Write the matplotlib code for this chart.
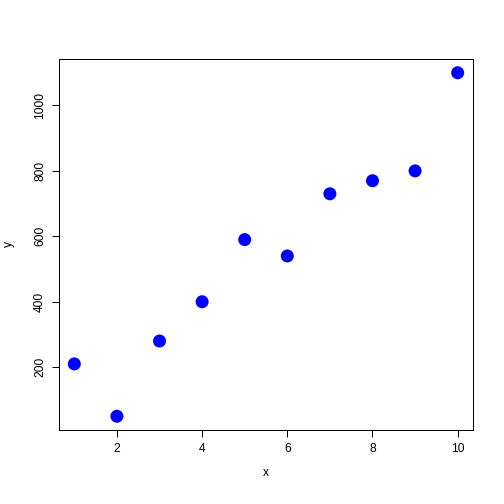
import matplotlib
matplotlib.use("Agg")
import matplotlib.pyplot as plt

x = [1, 2, 3, 4, 5, 6, 7, 8, 9, 10]
y = [210, 50, 280, 400, 590, 540, 730, 770, 800, 1100]
xticks = [2, 4, 6, 8, 10]
yticks = [200, 400, 600, 800, 1000]

plt.rcParams['font.family'] = ['Liberation Sans', 'DejaVu Sans']

fig = plt.figure(figsize=(7, 7), dpi=72)
W, H = 504, 504
left, right, top, bottom = 59, 473, 59, 430
ax = fig.add_axes([left / W, 1 - bottom / H, (right - left) / W, (bottom - top) / H])

ax.scatter(x, y, s=13 ** 2, color='#0000FF', edgecolors='none', zorder=3)

xr = max(x) - min(x)
yr = max(y) - min(y)
ax.set_xlim(min(x) - 0.04 * xr, max(x) + 0.04 * xr)
ax.set_ylim(min(y) - 0.04 * yr, max(y) + 0.04 * yr)

ax.set_xticks(xticks)
ax.set_yticks(yticks)
ax.set_xticklabels([str(v) for v in xticks])
ax.set_yticklabels([str(v) for v in yticks], rotation=90, va='center')
ax.tick_params(axis='both', direction='out', length=7, width=1, labelsize=12, colors='black')
ax.tick_params(axis='x', pad=6)
ax.tick_params(axis='y', pad=6)
for sp in ax.spines.values():
    sp.set_linewidth(1)
    sp.set_color('black')

ax.set_xlabel('x', fontsize=12)
ax.set_ylabel('y', fontsize=12)
ax.xaxis.set_label_coords(0.5, (bottom - 473) / (bottom - top))
ax.xaxis.label.set_va('center')
ax.yaxis.set_label_coords((9 - left) / (right - left), 0.5)
ax.yaxis.label.set_va('center')

fig.savefig('out.png', dpi=72)
